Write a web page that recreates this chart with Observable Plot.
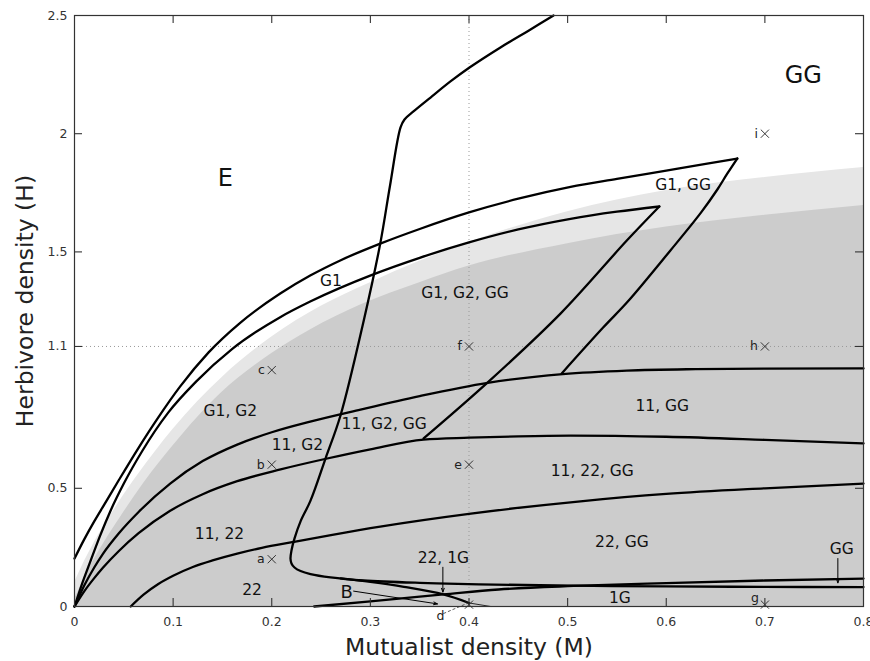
<!DOCTYPE html>
<html>
<head>
<meta charset="utf-8">
<script src="https://cdn.jsdelivr.net/npm/d3@7"></script>
<script src="https://cdn.jsdelivr.net/npm/@observablehq/plot@0.6"></script>
<style>
  html, body { margin: 0; padding: 0; background: #fff; }
</style>
</head>
<body>
<div id="chart"></div>
<script>
// ---------- data (M = mutualist density, H = herbivore density) ----------
const xTicks = [0, 0.1, 0.2, 0.3, 0.4, 0.5, 0.6, 0.7, 0.8];
const yTicks = [0, 0.5, 1.1, 1.5, 2, 2.5];
const innerXTicks = [0.1, 0.2, 0.3, 0.4, 0.5, 0.6, 0.7];
const innerYTicks = [0.5, 1.1, 1.5, 2];
const guideM = [0.4];
const guideH = [1.1];

// shaded regions (upper edges)
const lightGreyEdge = [[0,0.1],[0.01,0.19],[0.02,0.27],[0.03,0.34],[0.045,0.44],[0.065,0.56],[0.1,0.75],[0.15,0.97],[0.2,1.14],[0.25,1.27],[0.3,1.37],[0.35,1.46],[0.4,1.54],[0.5,1.67],[0.6,1.76],[0.7,1.815],[0.8,1.857]];
const darkGreyEdge = [[0,0.03],[0.01,0.12],[0.02,0.2],[0.03,0.27],[0.047,0.38],[0.07,0.52],[0.1,0.68],[0.148,0.9],[0.2,1.07],[0.239,1.17],[0.29,1.275],[0.35,1.37],[0.4,1.44],[0.5,1.535],[0.6,1.605],[0.7,1.655],[0.8,1.696]];

// boundary curves
const curveA = [[0,0.203],[0.01,0.285],[0.02,0.36],[0.03,0.43],[0.045,0.535],[0.064,0.665],[0.085,0.8],[0.107,0.93],[0.136,1.075],[0.168,1.2],[0.209,1.325],[0.239,1.4],[0.27,1.465],[0.31,1.535],[0.35,1.597],[0.4,1.667],[0.45,1.725],[0.503,1.775],[0.55,1.809],[0.6,1.844],[0.64,1.872],[0.672,1.895]];
const curveA2 = [[0.672,1.895],[0.662,1.832],[0.652,1.765],[0.635,1.665],[0.604,1.505],[0.561,1.29],[0.536,1.18],[0.494,0.986]];
const curveB = [[0,0],[0.008,0.1],[0.016,0.19],[0.026,0.3],[0.036,0.4],[0.05,0.52],[0.069,0.66],[0.095,0.82],[0.123,0.95],[0.16,1.09],[0.209,1.225],[0.239,1.29],[0.303,1.405],[0.35,1.475],[0.4,1.54],[0.45,1.595],[0.503,1.64],[0.55,1.67],[0.593,1.692]];
const curveB2 = [[0.593,1.692],[0.56,1.548],[0.493,1.24],[0.419,0.948],[0.354,0.711]];
const curveC = [[0,0],[0.01,0.09],[0.02,0.165],[0.029,0.224],[0.045,0.31],[0.065,0.4],[0.097,0.52],[0.13,0.615],[0.165,0.685],[0.2,0.737],[0.239,0.782],[0.29,0.833],[0.35,0.89],[0.419,0.946],[0.495,0.983],[0.56,0.998],[0.63,1.004],[0.7,1.006],[0.8,1.007]];
const curveD = [[0,0],[0.01,0.065],[0.02,0.12],[0.029,0.165],[0.045,0.235],[0.065,0.31],[0.097,0.405],[0.13,0.475],[0.165,0.53],[0.209,0.58],[0.255,0.625],[0.3,0.665],[0.354,0.706],[0.4,0.714],[0.45,0.72],[0.503,0.723],[0.6,0.718],[0.7,0.705],[0.8,0.69]];
const curveE = [[0.057,0],[0.07,0.05],[0.085,0.095],[0.1,0.13],[0.12,0.167],[0.14,0.195],[0.165,0.224],[0.19,0.248],[0.222,0.273],[0.26,0.302],[0.31,0.338],[0.4,0.392],[0.513,0.445],[0.6,0.476],[0.7,0.5],[0.8,0.52]];
const foldCurve = [[0.4857,2.5],[0.4624,2.441],[0.4319,2.365],[0.4005,2.28],[0.3812,2.221],[0.361,2.153],[0.3437,2.094],[0.3346,2.06],[0.3305,2.026],[0.3199,1.78],[0.31,1.535],[0.2933,1.21],[0.2697,0.808],[0.2545,0.626],[0.2393,0.448],[0.2292,0.36],[0.2231,0.288],[0.22,0.237],[0.219,0.203],[0.22,0.182],[0.2231,0.165],[0.2292,0.15],[0.2393,0.137],[0.2596,0.123],[0.293,0.11],[0.35,0.1],[0.41,0.094],[0.506,0.088],[0.6,0.085],[0.7,0.083],[0.8,0.082]];
const foldBranch = [[0.27,0.119],[0.3,0.104],[0.334,0.083],[0.374,0.051],[0.4,0.015]];
const foldTail = [[0.4,0.015],[0.422,0]];
const curve1G = [[0.243,0],[0.3,0.022],[0.374,0.051],[0.43,0.072],[0.506,0.087],[0.6,0.099],[0.7,0.11],[0.8,0.118]];

// sample points
const pointNames = ["a","b","c","d","e","f","g","h","i"];
const pointM = [0.2, 0.2, 0.2, 0.4, 0.4, 0.4, 0.7, 0.7, 0.7];
const pointH = [0.2, 0.6, 1.0, 0.008, 0.6, 1.1, 0.008, 1.1, 2.0];
const sideLabelled = ["a","b","c","e","f","h","i"];
const looseLabelNames = ["d","g"];
const looseLabelM = [0.371, 0.69];
const looseLabelH = [-0.042, 0.038];

// region labels
const regionNames = ["G1","G1, G2, GG","G1, GG","G1, G2","11, G2","11, G2, GG","11, GG","11, 22, GG","11, 22","22, GG","22, 1G","22","1G","GG"];
const regionM = [0.26, 0.396, 0.617, 0.158, 0.226, 0.314, 0.596, 0.525, 0.147, 0.555, 0.374, 0.18, 0.553, 0.778];
const regionH = [1.375, 1.328, 1.781, 0.825, 0.685, 0.770, 0.850, 0.575, 0.305, 0.271, 0.207, 0.068, 0.034, 0.241];
const bigNames = ["E", "GG"];
const bigM = [0.153, 0.739];
const bigH = [1.81, 2.246];
const bLabel = ["B"];
const bM = [0.276];
const bH = [0.059];

// annotation arrows
const arrowM1 = [0.3735, 0.774, 0.283];
const arrowH1 = [0.166, 0.203, 0.065];
const arrowM2 = [0.3735, 0.774, 0.368];
const arrowH2 = [0.061, 0.1, 0.011];
const leaderM = [0.374, 0.398];
const leaderH = [-0.03, 0.013];

// ---------- build ----------
const pts = arr => arr.map(([m, h]) => ({m, h}));
const zipLabels = (names, ms, hs) => names.map((t, i) => ({t, m: ms[i], h: hs[i]}));
const points = zipLabels(pointNames, pointM, pointH);
const sidePoints = points.filter(p => sideLabelled.includes(p.t));
const arrows = arrowM1.map((m, i) => ({m1: m, h1: arrowH1[i], m2: arrowM2[i], h2: arrowH2[i]}));
const leader = [{m1: leaderM[0], h1: leaderH[0], m2: leaderM[1], h2: leaderH[1]}];

const lineBase = {x: "m", y: "h", stroke: "#000", strokeWidth: 2.3, strokeLinejoin: "round", strokeLinecap: "round"};
const smoothX = {...lineBase, curve: "monotone-x"};
const smoothFree = {...lineBase, curve: "catmull-rom"};
const font = "'DejaVu Sans', 'Liberation Sans', sans-serif";
const ink = "#222";

const W = 870, Hh = 661, mL = 74, mR = 7, mT = 15, mB = 55, tickLen = 8;
const frameW = W - mL - mR, frameH = Hh - mT - mB;
const tickStyle = {stroke: "#333", strokeWidth: 1.1};

const chart = Plot.plot({
  width: W,
  height: Hh,
  marginLeft: mL,
  marginRight: mR,
  marginTop: mT,
  marginBottom: mB,
  style: {fontFamily: font, background: "#fff", color: ink},
  x: {domain: [0, 0.8], label: null},
  y: {domain: [0, 2.5], label: null},
  marks: [
    Plot.areaY(pts(lightGreyEdge), {x: "m", y: "h", fill: "#e6e6e6", curve: "monotone-x"}),
    Plot.areaY(pts(darkGreyEdge), {x: "m", y: "h", fill: "#cccccc", curve: "monotone-x"}),
    Plot.ruleX(guideM, {stroke: "#999", strokeWidth: 1, strokeDasharray: "1,3"}),
    Plot.ruleY(guideH, {stroke: "#999", strokeWidth: 1, strokeDasharray: "1,3"}),
    ...[curveA, curveB, curveC, curveD, curveE, curve1G].map(c => Plot.line(pts(c), smoothX)),
    ...[curveA2, curveB2, foldCurve, foldBranch].map(c => Plot.line(pts(c), smoothFree)),
    Plot.line(pts(foldTail), {x: "m", y: "h", stroke: "#000", strokeWidth: 0.8}),
    // annotations
    Plot.arrow(arrows, {x1: "m1", y1: "h1", x2: "m2", y2: "h2", stroke: "#000", strokeWidth: 1, headLength: 6, headAngle: 40}),
    Plot.link(leader, {x1: "m1", y1: "h1", x2: "m2", y2: "h2", stroke: "#333", strokeWidth: 0.8, strokeDasharray: "3,2"}),
    Plot.dot(points, {x: "m", y: "h", symbol: "times", r: 3.8, stroke: ink, strokeWidth: 0.9}),
    Plot.text(sidePoints, {x: "m", y: "h", text: "t", textAnchor: "end", dx: -7, fontSize: 12.5, fill: ink}),
    Plot.text(zipLabels(looseLabelNames, looseLabelM, looseLabelH), {x: "m", y: "h", text: "t", fontSize: 12.5, fill: ink}),
    Plot.text(zipLabels(regionNames, regionM, regionH), {x: "m", y: "h", text: "t", fontSize: 15.5, fill: "#111"}),
    Plot.text(zipLabels(bigNames, bigM, bigH), {x: "m", y: "h", text: "t", fontSize: 24, fill: "#111"}),
    Plot.text(zipLabels(bLabel, bM, bH), {x: "m", y: "h", text: "t", fontSize: 18, fill: "#111"}),
    // frame & inward ticks
    Plot.frame({stroke: "#333", strokeWidth: 1.2}),
    Plot.tickX(innerXTicks, {x: d => d, insetTop: frameH - tickLen, ...tickStyle}),
    Plot.tickX(innerXTicks, {x: d => d, insetBottom: frameH - tickLen, ...tickStyle}),
    Plot.tickY(innerYTicks, {y: d => d, insetRight: frameW - tickLen, ...tickStyle}),
    Plot.tickY(innerYTicks, {y: d => d, insetLeft: frameW - tickLen, ...tickStyle}),
    // tick labels
    Plot.axisX(xTicks, {anchor: "bottom", tickSize: 0, tickPadding: 11, tickFormat: d => String(d), label: null, fontSize: 12.5, color: "#333"}),
    Plot.axisY(yTicks, {anchor: "left", tickSize: 0, tickPadding: 7, tickFormat: d => String(d), label: null, fontSize: 12.5, color: "#333"}),
    Plot.text(["Mutualist density (M)"], {frameAnchor: "bottom", lineAnchor: "middle", textAnchor: "middle", dy: 40.5, fontSize: 23.5, fill: ink}),
    Plot.text(["Herbivore density (H)"], {frameAnchor: "left", lineAnchor: "middle", textAnchor: "middle", dx: -49.5, dy: -10, rotate: -90, fontSize: 23.5, fill: ink})
  ]
});
document.getElementById("chart").appendChild(chart);
</script>
</body>
</html>
